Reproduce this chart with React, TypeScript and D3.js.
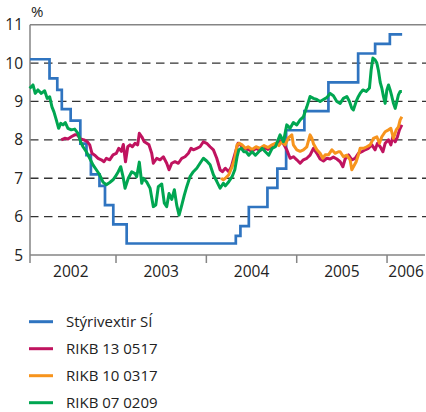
import React from 'react';
import * as d3 from 'd3';

// Stýrivextir Seðlabankans og ávöxtun ríkisbréfa, 2002-2006 (%)
const yearLabels = ['2002', '2003', '2004', '2005', '2006'];
const yTicks = [5, 6, 7, 8, 9, 10, 11];
const seriesNames = ['Stýrivextir SÍ', 'RIKB 13 0517', 'RIKB 10 0317', 'RIKB 07 0209'];
const seriesColors = ['#2f74c0', '#c0135f', '#f7941d', '#00a651'];

// tími sem ár með aukastöfum, gildi í %
const policyRate: [number, number][] = [
  [2002.048, 10.1], [2002.264, 9.6], [2002.35, 9.3], [2002.4, 8.8], [2002.498, 8.5],
  [2002.605, 7.9], [2002.673, 7.6], [2002.722, 7.1], [2002.817, 6.8], [2002.878, 6.3],
  [2002.97, 5.8], [2003.118, 5.3], [2004.326, 5.5], [2004.377, 5.75], [2004.47, 6.25],
  [2004.676, 6.75], [2004.786, 7.25], [2004.883, 8.25], [2005.085, 8.75], [2005.351, 9.5],
  [2005.68, 10.25], [2005.868, 10.5], [2006.031, 10.75], [2006.167, 10.75],
];

const rikb130517: [number, number][] = [
  [2002.394, 8.0], [2002.432, 8.04], [2002.468, 8.02], [2002.505, 8.08], [2002.543, 8.13],
  [2002.571, 8.13], [2002.609, 8.02], [2002.646, 8.0], [2002.682, 7.95], [2002.709, 7.87],
  [2002.734, 7.65], [2002.764, 7.6], [2002.801, 7.52], [2002.837, 7.48], [2002.867, 7.43],
  [2002.893, 7.52], [2002.93, 7.48], [2002.967, 7.61], [2003.003, 7.65], [2003.03, 7.78],
  [2003.059, 7.7], [2003.081, 7.88], [2003.105, 7.43], [2003.13, 7.82], [2003.155, 7.87],
  [2003.181, 7.82], [2003.21, 7.91], [2003.24, 7.87], [2003.258, 8.17], [2003.285, 8.08],
  [2003.313, 7.95], [2003.34, 7.91], [2003.365, 7.87], [2003.395, 7.65], [2003.413, 7.39],
  [2003.451, 7.52], [2003.487, 7.48], [2003.524, 7.56], [2003.561, 7.39], [2003.587, 7.22],
  [2003.617, 7.39], [2003.653, 7.43], [2003.69, 7.39], [2003.728, 7.52], [2003.764, 7.56],
  [2003.801, 7.65], [2003.831, 7.78], [2003.856, 7.74], [2003.894, 7.78], [2003.93, 7.82],
  [2003.967, 7.95], [2004.004, 7.91], [2004.041, 7.82], [2004.078, 7.74], [2004.115, 7.52],
  [2004.152, 7.22], [2004.177, 7.17], [2004.21, 7.26], [2004.248, 7.17], [2004.277, 7.3],
  [2004.303, 7.52], [2004.329, 7.74], [2004.351, 7.91], [2004.377, 7.87], [2004.414, 7.78],
  [2004.462, 7.75], [2004.506, 7.7], [2004.55, 7.78], [2004.595, 7.72], [2004.639, 7.8],
  [2004.683, 7.75], [2004.728, 7.85], [2004.772, 7.9], [2004.816, 7.98], [2004.853, 7.9],
  [2004.89, 7.74], [2004.927, 7.52], [2004.963, 7.56], [2005.001, 7.48], [2005.038, 7.39],
  [2005.074, 7.48], [2005.112, 7.52], [2005.148, 7.6], [2005.185, 7.78], [2005.223, 7.65],
  [2005.259, 7.5], [2005.296, 7.45], [2005.333, 7.52], [2005.37, 7.5], [2005.406, 7.55],
  [2005.444, 7.5], [2005.481, 7.43], [2005.511, 7.3], [2005.536, 7.5], [2005.573, 7.61],
  [2005.61, 7.48], [2005.647, 7.52], [2005.683, 7.65], [2005.721, 7.69], [2005.757, 7.74],
  [2005.794, 7.78], [2005.832, 7.87], [2005.868, 7.74], [2005.894, 7.91], [2005.924, 7.82],
  [2005.954, 7.69], [2005.979, 7.91], [2006.016, 8.0], [2006.042, 7.87], [2006.064, 8.08],
  [2006.09, 7.95], [2006.115, 8.08], [2006.137, 8.26], [2006.164, 8.39],
];

const rikb100317: [number, number][] = [
  [2004.163, 7.0], [2004.188, 6.96], [2004.21, 7.0], [2004.248, 7.09], [2004.285, 7.3],
  [2004.315, 7.52], [2004.34, 7.87], [2004.365, 7.91], [2004.395, 7.87], [2004.432, 7.78],
  [2004.462, 7.82], [2004.506, 7.75], [2004.55, 7.82], [2004.595, 7.78], [2004.639, 7.85],
  [2004.683, 7.8], [2004.728, 7.87], [2004.764, 7.91], [2004.802, 7.85], [2004.835, 7.95],
  [2004.872, 7.87], [2004.908, 8.05], [2004.946, 8.13], [2004.963, 7.87], [2005.001, 7.74],
  [2005.038, 7.7], [2005.074, 7.74], [2005.112, 7.82], [2005.148, 8.13], [2005.167, 8.05],
  [2005.185, 7.9], [2005.223, 7.74], [2005.259, 7.65], [2005.289, 7.52], [2005.315, 7.61],
  [2005.351, 7.61], [2005.389, 7.74], [2005.425, 7.65], [2005.462, 7.69], [2005.481, 7.69],
  [2005.517, 7.56], [2005.555, 7.6], [2005.591, 7.48], [2005.61, 7.22], [2005.628, 7.3],
  [2005.658, 7.43], [2005.683, 7.61], [2005.702, 7.78], [2005.739, 7.78], [2005.776, 7.82],
  [2005.813, 7.87], [2005.849, 8.04], [2005.887, 8.08], [2005.916, 7.91], [2005.942, 8.08],
  [2005.979, 8.21], [2006.016, 8.26], [2006.042, 8.3], [2006.071, 8.04], [2006.101, 8.26],
  [2006.126, 8.34], [2006.145, 8.52], [2006.164, 8.6],
];

const rikb070209: [number, number][] = [
  [2002.044, 9.34], [2002.081, 9.43], [2002.106, 9.21], [2002.136, 9.3], [2002.173, 9.21],
  [2002.21, 9.28], [2002.239, 9.08], [2002.266, 9.12], [2002.291, 8.86], [2002.313, 8.73],
  [2002.339, 8.52], [2002.365, 8.3], [2002.388, 8.43], [2002.413, 8.39], [2002.439, 8.45],
  [2002.468, 8.3], [2002.505, 8.26], [2002.543, 8.28], [2002.579, 8.17], [2002.609, 7.95],
  [2002.635, 7.82], [2002.671, 7.69], [2002.709, 7.52], [2002.745, 7.35], [2002.782, 7.22],
  [2002.819, 7.09], [2002.856, 6.9], [2002.893, 6.83], [2002.93, 6.89], [2002.967, 6.96],
  [2002.992, 7.04], [2003.025, 7.17], [2003.052, 7.3], [2003.077, 7.05], [2003.1, 6.74],
  [2003.136, 7.0], [2003.174, 7.17], [2003.21, 7.12], [2003.229, 7.04], [2003.258, 7.42],
  [2003.285, 6.87], [2003.302, 7.0], [2003.34, 6.9], [2003.377, 6.74], [2003.413, 6.26],
  [2003.44, 6.3], [2003.468, 6.78], [2003.506, 6.85], [2003.535, 6.35], [2003.561, 6.26],
  [2003.587, 6.6], [2003.617, 6.45], [2003.646, 6.7], [2003.672, 6.3], [2003.698, 6.04],
  [2003.728, 6.3], [2003.756, 6.56], [2003.783, 6.78], [2003.819, 7.04], [2003.856, 7.17],
  [2003.894, 7.26], [2003.93, 7.39], [2003.967, 7.52], [2004.004, 7.45], [2004.041, 7.35],
  [2004.078, 7.09], [2004.115, 6.92], [2004.152, 6.74], [2004.188, 6.87], [2004.21, 6.8],
  [2004.248, 6.91], [2004.285, 7.04], [2004.315, 7.22], [2004.34, 7.56], [2004.359, 7.74],
  [2004.388, 7.78], [2004.414, 7.69], [2004.44, 7.69], [2004.47, 7.6], [2004.506, 7.69],
  [2004.543, 7.6], [2004.58, 7.69], [2004.617, 7.78], [2004.653, 7.69], [2004.691, 7.6],
  [2004.728, 7.78], [2004.764, 7.82], [2004.816, 8.13], [2004.853, 7.95], [2004.89, 8.39],
  [2004.927, 8.3], [2004.963, 8.45], [2005.001, 8.39], [2005.038, 8.52], [2005.074, 8.6],
  [2005.112, 8.86], [2005.148, 9.13], [2005.185, 9.08], [2005.223, 9.05], [2005.259, 9.0],
  [2005.296, 9.05], [2005.333, 9.1], [2005.37, 9.21], [2005.406, 9.15], [2005.444, 9.0],
  [2005.481, 8.95], [2005.517, 9.08], [2005.555, 9.13], [2005.584, 9.0], [2005.61, 8.82],
  [2005.628, 8.78], [2005.658, 9.0], [2005.683, 9.13], [2005.702, 9.21], [2005.732, 9.3],
  [2005.769, 9.26], [2005.805, 9.35], [2005.824, 9.82], [2005.843, 10.13], [2005.868, 10.08],
  [2005.887, 10.0], [2005.905, 9.8], [2005.924, 9.5], [2005.942, 9.35], [2005.96, 9.13],
  [2005.979, 8.95], [2005.998, 9.3], [2006.016, 9.43], [2006.034, 9.3], [2006.053, 9.13],
  [2006.071, 8.95], [2006.09, 8.82], [2006.109, 9.0], [2006.126, 9.17], [2006.145, 9.26],
  [2006.164, 9.26],
];

const App = () => {
  const width = 426;
  const height = 412;
  const font = '"Open Sans", "Noto Sans", sans-serif';

  // plot region
  const x = d3.scaleLinear().domain([2002.048, 2006.42]).range([30, 425]);
  const y = d3.scaleLinear().domain([5, 11]).range([255, 24.7]);

  const line = d3.line<[number, number]>()
    .x(d => x(d[0]))
    .y(d => y(d[1]));
  const stepLine = d3.line<[number, number]>()
    .x(d => x(d[0]))
    .y(d => y(d[1]))
    .curve(d3.curveStepAfter);

  const yearTicks = [2003, 2004, 2005, 2006];
  const labelPos = yearLabels.map((l, i) => {
    const start = +l;
    const end = Math.min(start + 1, x.domain()[1]);
    return i === yearLabels.length - 1 ? (start + end) / 2 : start + 0.5;
  });

  const [x0, x1] = x.range();

  return (
    <svg width={width} height={height} style={{ position: 'absolute', left: 0, top: 0, background: '#fff' }}>
      {/* gridlines */}
      {yTicks.filter(t => t > 5 && t < 11).map(t => (
        <line key={t} x1={x0} x2={x1 + 1} y1={y(t)} y2={y(t)}
          stroke="#333" strokeWidth={1.3} strokeDasharray="8.5,5.5" />
      ))}
      {/* top border */}
      <line x1={x0} x2={width} y1={y(11)} y2={y(11)} stroke="#858585" strokeWidth={1.5} />
      {/* axes */}
      <line x1={x0} x2={x0} y1={y(11)} y2={y(5) + 8} stroke="#858585" strokeWidth={1.5} />
      <line x1={x0} x2={x1} y1={y(5)} y2={y(5)} stroke="#858585" strokeWidth={1.5} />
      {yearTicks.map(t => (
        <line key={t} x1={x(t)} x2={x(t)} y1={y(5)} y2={y(5) + 8} stroke="#858585" strokeWidth={1.5} />
      ))}

      {/* y labels */}
      {yTicks.map(t => (
        <text key={t} x={23} y={y(t)} dy="0.36em" textAnchor="end" fontFamily={font} fontSize={15.5} fill="#222">{t}</text>
      ))}
      <text x={31} y={17} fontFamily={font} fontSize={15} fill="#222">%</text>

      {/* x labels */}
      {yearLabels.map((l, i) => (
        <text key={l} x={x(labelPos[i])} y={276.5} textAnchor="middle" fontFamily={font} fontSize={15.5} fill="#222">{l}</text>
      ))}

      {/* series */}
      <path d={stepLine(policyRate) || ''} fill="none" stroke={seriesColors[0]} strokeWidth={2.7} />
      <path d={line(rikb130517) || ''} fill="none" stroke={seriesColors[1]} strokeWidth={3} strokeLinejoin="round" />
      <path d={line(rikb100317) || ''} fill="none" stroke={seriesColors[2]} strokeWidth={3} strokeLinejoin="round" />
      <path d={line(rikb070209) || ''} fill="none" stroke={seriesColors[3]} strokeWidth={3} strokeLinejoin="round" />

      {/* legend */}
      {seriesNames.map((name, i) => {
        const ly = 321.7 + i * 27;
        return (
          <g key={name}>
            <line x1={29} x2={53} y1={ly} y2={ly} stroke={seriesColors[i]} strokeWidth={3} />
            <text x={66} y={ly} dy="0.36em" fontFamily={font} fontSize={15} fill="#222">{name}</text>
          </g>
        );
      })}
    </svg>
  );
};

export default App;
